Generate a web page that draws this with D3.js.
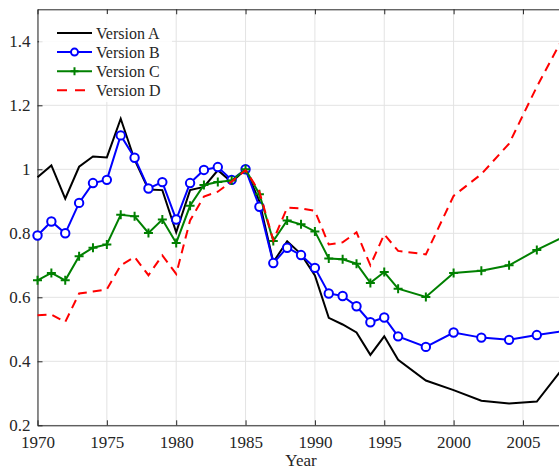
<!DOCTYPE html>
<html>
<head>
<meta charset="utf-8">
<script src="https://cdn.jsdelivr.net/npm/d3@7"></script>
<style>
  body { margin: 0; background: #fff; }
  svg { display: block; }
  svg text { font-family: "Liberation Serif", "Times New Roman", serif; }
</style>
</head>
<body>
<div id="chart"></div>
<script>

/* DATA */

const years = [1970, 1971, 1972, 1973, 1974, 1975, 1976, 1977, 1978, 1979,
               1980, 1981, 1982, 1983, 1984, 1985, 1986, 1987, 1988, 1989,
               1990, 1991, 1992, 1993, 1994, 1995, 1996, 1998, 2000, 2002,
               2004, 2006, 2008];

const versionA = [0.975, 1.012, 0.908, 1.008, 1.04, 1.037, 1.158, 1.03, 0.937, 0.935,
                  0.803, 0.935, 0.945, 0.997, 0.96, 1.0, 0.9, 0.71, 0.775, 0.735,
                  0.668, 0.536, 0.515, 0.49, 0.42, 0.478, 0.405, 0.34, 0.31, 0.277,
                  0.268, 0.274, 0.385];

const versionB = [0.793, 0.837, 0.8, 0.895, 0.957, 0.967, 1.106, 1.036, 0.94, 0.96,
                  0.843, 0.957, 0.998, 1.007, 0.967, 1.0, 0.883, 0.707, 0.755, 0.732,
                  0.692, 0.612, 0.604, 0.572, 0.522, 0.537, 0.478, 0.445, 0.49, 0.474,
                  0.467, 0.482, 0.495];

const versionC = [0.653, 0.676, 0.653, 0.728, 0.755, 0.765, 0.858, 0.853, 0.801, 0.843,
                  0.77, 0.886, 0.951, 0.96, 0.965, 1.0, 0.922, 0.776, 0.84, 0.828,
                  0.806, 0.721, 0.719, 0.705, 0.645, 0.679, 0.627, 0.601, 0.676, 0.683,
                  0.7, 0.748, 0.79];

const versionD = [0.544, 0.546, 0.523, 0.612, 0.618, 0.625, 0.7, 0.726, 0.669, 0.731,
                  0.673, 0.84, 0.915, 0.93, 0.962, 0.997, 0.93, 0.778, 0.88, 0.878,
                  0.87, 0.765, 0.772, 0.803, 0.7, 0.797, 0.745, 0.734, 0.917, 0.985,
                  1.08, 1.258, 1.42];

const seriesNames = ["Version A", "Version B", "Version C", "Version D"];
const xTicks = [1970, 1975, 1980, 1985, 1990, 1995, 2000, 2005];
const yTicks = [0.2, 0.4, 0.6, 0.8, 1.0, 1.2, 1.4];

/* CONSTANTS */

const width = 559;
const height = 469;
const margin = { top: 9.3, left: 37.5, bottom: 43.7 };
const axisColor = "#262626";

const series = [
  { name: seriesNames[0], values: versionA, color: "#000000", marker: null, dash: null },
  { name: seriesNames[1], values: versionB, color: "#0000ff", marker: "circle", dash: null },
  { name: seriesNames[2], values: versionC, color: "#008000", marker: "plus", dash: null },
  { name: seriesNames[3], values: versionD, color: "#ff0000", marker: null, dash: "9,6" }
];

// SCALES
const xScale = d3.scaleLinear()
  .domain([1970, 2010])
  .range([margin.left, margin.left + 40 * 13.87]);

const yScale = d3.scaleLinear()
  .domain([0.2, 1.5])
  .range([height - margin.bottom, margin.top]);

const x0 = xScale.range()[0], x1 = xScale.range()[1];
const y0 = yScale.range()[0], y1 = yScale.range()[1];

const svg = d3.select("#chart")
  .append("svg")
  .attr("width", width)
  .attr("height", height);

// GRID
svg.append("g")
  .selectAll("line")
  .data(xTicks)
  .join("line")
  .attr("x1", d => xScale(d)).attr("x2", d => xScale(d))
  .attr("y1", y0).attr("y2", y1)
  .attr("stroke", "#e3e3e3")
  .attr("stroke-width", 1);

svg.append("g")
  .selectAll("line")
  .data(yTicks)
  .join("line")
  .attr("x1", x0).attr("x2", x1)
  .attr("y1", d => yScale(d)).attr("y2", d => yScale(d))
  .attr("stroke", "#e3e3e3")
  .attr("stroke-width", 1);

// AXES (ticks pointing inward)
const xAxisBottom = d3.axisBottom(xScale).tickValues(xTicks).tickFormat(d3.format("d"))
  .tickSizeInner(-5).tickSizeOuter(0).tickPadding(11);
const xAxisTop = d3.axisTop(xScale).tickValues(xTicks).tickFormat("")
  .tickSizeInner(-5).tickSizeOuter(0);
const yAxisLeft = d3.axisLeft(yScale).tickValues(yTicks).tickFormat(d => d === 1 ? "1" : d3.format(".1f")(d))
  .tickSizeInner(-5).tickSizeOuter(0).tickPadding(7);

const gx = svg.append("g")
  .attr("transform", `translate(0, ${y0})`)
  .call(xAxisBottom);

const gxt = svg.append("g")
  .attr("transform", `translate(0, ${y1})`)
  .call(xAxisTop);

const gy = svg.append("g")
  .attr("transform", `translate(${x0}, 0)`)
  .call(yAxisLeft);

[gx, gxt, gy].forEach(g => {
  g.attr("font-family", null).attr("font-size", 17);
  g.selectAll("path, line").attr("stroke", axisColor).attr("stroke-width", 1);
  g.selectAll("text").attr("fill", axisColor);
});

// LINES
const line = d3.line()
  .x((d, i) => xScale(years[i]))
  .y(d => yScale(d));

series.forEach(s => {
  svg.append("path")
    .datum(s.values)
    .attr("fill", "none")
    .attr("stroke", s.color)
    .attr("stroke-width", 2)
    .attr("stroke-linejoin", "miter")
    .attr("stroke-dasharray", s.dash)
    .attr("d", line);

  if (s.marker === "circle") {
    svg.append("g")
      .selectAll("circle")
      .data(s.values)
      .join("circle")
      .attr("cx", (d, i) => xScale(years[i]))
      .attr("cy", d => yScale(d))
      .attr("r", 4.2)
      .attr("fill", "white")
      .attr("stroke", s.color)
      .attr("stroke-width", 2);
  }
  if (s.marker === "plus") {
    svg.append("g")
      .selectAll("path")
      .data(s.values)
      .join("path")
      .attr("transform", (d, i) => `translate(${xScale(years[i])}, ${yScale(d)})`)
      .attr("d", "M-4.5,0H4.5M0,-4.5V4.5")
      .attr("stroke", s.color)
      .attr("stroke-width", 2);
  }
});

// LEGEND
const legend = svg.append("g");

legend.append("rect")
  .attr("x", 39).attr("y", 14)
  .attr("width", 133).attr("height", 88)
  .attr("fill", "white")
  .attr("fill-opacity", 0.85);

const rowY = i => 33 + i * 19.1;

series.forEach((s, i) => {
  legend.append("line")
    .attr("x1", 57).attr("x2", 92)
    .attr("y1", rowY(i)).attr("y2", rowY(i))
    .attr("stroke", s.color)
    .attr("stroke-width", 2)
    .attr("stroke-dasharray", s.dash ? "10,8" : null);

  if (s.marker === "circle") {
    legend.append("circle")
      .attr("cx", 74.5).attr("cy", rowY(i)).attr("r", 3.5)
      .attr("fill", "white").attr("stroke", s.color).attr("stroke-width", 2);
  }
  if (s.marker === "plus") {
    legend.append("path")
      .attr("transform", `translate(74.5, ${rowY(i)})`)
      .attr("d", "M-4,0H4M0,-4V4")
      .attr("stroke", s.color).attr("stroke-width", 2);
  }

  legend.append("text")
    .attr("x", 96)
    .attr("y", rowY(i))
    .attr("dy", "0.35em")
    .attr("fill", axisColor)
    .attr("font-size", 16)
    .text(s.name);
});

// AXIS TITLE
svg.append("text")
  .attr("x", 301)
  .attr("y", 466)
  .attr("text-anchor", "middle")
  .attr("fill", axisColor)
  .attr("font-size", 17)
  .text("Year");

</script>
</body>
</html>
